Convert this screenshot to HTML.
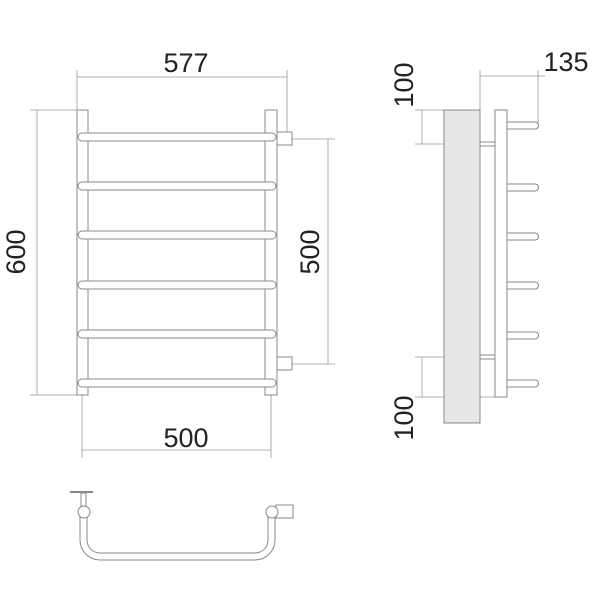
<!DOCTYPE html>
<html><head><style>body{margin:0;background:#fff}svg{display:block}text{font-family:"Liberation Sans",sans-serif;font-size:27px;fill:#222}</style></head><body>
<svg width="600" height="600" viewBox="0 0 600 600" xmlns="http://www.w3.org/2000/svg">
<g stroke="#999" stroke-width="0.8" fill="none">
<line x1="77" y1="70" x2="77" y2="110"/><line x1="287" y1="70" x2="287" y2="132"/>
<line x1="77" y1="77" x2="287" y2="77"/>
<line x1="30" y1="110" x2="77" y2="110"/><line x1="30" y1="395" x2="77" y2="395"/>
<line x1="37" y1="110" x2="37" y2="395"/>
<line x1="292" y1="139" x2="335" y2="139"/><line x1="292" y1="364" x2="335" y2="364"/>
<line x1="328" y1="139" x2="328" y2="364"/>
<line x1="82" y1="395" x2="82" y2="458"/><line x1="271" y1="395" x2="271" y2="458"/>
<line x1="82" y1="450" x2="271" y2="450"/>
<line x1="480" y1="70" x2="480" y2="110"/><line x1="538" y1="70" x2="538" y2="125"/>
<line x1="480" y1="76" x2="545" y2="76"/>
<line x1="415" y1="110" x2="444" y2="110"/><line x1="415" y1="144" x2="480" y2="144"/>
<line x1="422" y1="110" x2="422" y2="144"/>
<line x1="415" y1="357" x2="480" y2="357"/><line x1="415" y1="397" x2="495" y2="397"/>
<line x1="422" y1="357" x2="422" y2="397"/>
</g>
<g stroke="#888" stroke-width="1" fill="#fff">
<rect x="77" y="110" width="11" height="285"/>
<rect x="265" y="110" width="12" height="285"/>
<rect x="277" y="132" width="15" height="13"/>
<rect x="277" y="357" width="15" height="13"/>
<rect x="78" y="133" width="198" height="8" rx="4"/>
<rect x="78" y="182" width="198" height="8" rx="4"/>
<rect x="78" y="231" width="198" height="8" rx="4"/>
<rect x="78" y="281" width="198" height="8" rx="4"/>
<rect x="78" y="330" width="198" height="8" rx="4"/>
<rect x="78" y="379" width="198" height="8" rx="4"/>
<rect x="444" y="110" width="36" height="313" fill="#e6e7e7"/>
<rect x="495" y="110" width="12" height="287"/>
<rect x="480" y="142" width="15" height="4"/>
<rect x="480" y="355" width="15" height="4"/>
<path d="M507 122h28a3.5 3.5 0 0 1 0 7h-28z"/>
<path d="M507 184h28a3.5 3.5 0 0 1 0 7h-28z"/>
<path d="M507 233h28a3.5 3.5 0 0 1 0 7h-28z"/>
<path d="M507 282h28a3.5 3.5 0 0 1 0 7h-28z"/>
<path d="M507 332h28a3.5 3.5 0 0 1 0 7h-28z"/>
<path d="M507 380h28a3.5 3.5 0 0 1 0 7h-28z"/>
<path d="M80 512v28a20 20 0 0 0 20 20h155a20 20 0 0 0 20-20v-28h-7v28a13 13 0 0 1-13 13h-155a13 13 0 0 1-13-13v-28z"/>
<rect x="276" y="505" width="17" height="13"/>
<line x1="70" y1="492" x2="93" y2="492" stroke-width="2"/>
<rect x="81" y="493" width="5" height="13"/>
<circle cx="84" cy="512" r="6"/>
<circle cx="272" cy="512" r="6"/>
</g>
<text x="186" y="72" text-anchor="middle">577</text>
<text x="186" y="447" text-anchor="middle">500</text>
<text x="566" y="71" text-anchor="middle">135</text>
<text transform="translate(25,252) rotate(-90)" text-anchor="middle">600</text>
<text transform="translate(319,252) rotate(-90)" text-anchor="middle">500</text>
<text transform="translate(413,85) rotate(-90)" text-anchor="middle">100</text>
<text transform="translate(413,418) rotate(-90)" text-anchor="middle">100</text>
</svg>
</body></html>
